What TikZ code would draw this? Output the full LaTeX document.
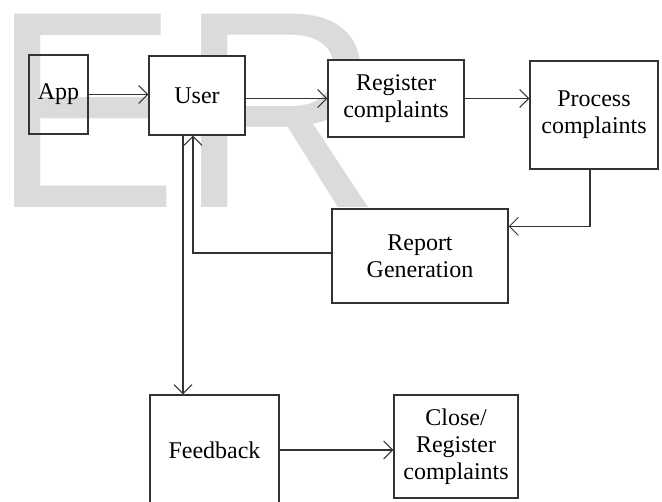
\documentclass[tikz,border=0pt]{standalone}
\usepackage{fontspec}
\setmainfont{Liberation Serif}
\newfontfamily\wmfont{Liberation Sans}
\usetikzlibrary{arrows.meta}
\begin{document}
\begin{tikzpicture}[x=1pt,y=-1pt,
  box/.style={draw=black!80, line width=1.3pt, fill=white, inner sep=0pt, align=center,
              font=\fontsize{24}{27}\selectfont},
  arr/.style={draw=black!80, line width=1.2pt,
              -{Straight Barb[length=9pt,width=18pt,line width=1pt]}},
  wm/.style={text=black!14, font=\wmfont\fontsize{281}{281}\selectfont, inner sep=0pt, anchor=base west}]
\clip (0,0) rectangle (662,502);
\useasboundingbox (0,0) rectangle (662,502);
\fill[white] (0,0) rectangle (662,502);
% watermark
\node[wm] (wmark) at (-9,208) {ER};
% boxes
\node[box, fill=none, minimum width=59pt, minimum height=79pt] (app) at (58.5,94.5) {App};
\node[box, minimum width=96pt, minimum height=79pt] (user) at (197,95.5) {User};
\node[box, minimum width=136pt, minimum height=77pt] (reg) at (396,98.5) {Register\\complaints};
\node[box, minimum width=128pt, minimum height=108pt] (proc) at (594,115) {Process\\complaints};
\node[box, minimum width=176pt, minimum height=94pt] (rep) at (420,256) {Report\\Generation};
\node[box, minimum width=129pt, minimum height=110pt] (fb) at (214.5,450) {Feedback};
\node[box, minimum width=124pt, minimum height=103pt] (close) at (456,446.5) {Close/\\Register\\complaints};
% connectors
\draw[arr] (app.east) -- (user.west |- app.east);
\draw[arr] (user.east |- reg.west) -- (reg.west);
\draw[arr] (reg.east) -- (proc.west |- reg.east);
\draw[arr] ([xshift=-4pt]proc.south) |- ([yshift=-18pt]rep.north east);
\draw[arr] ([yshift=3pt]rep.west) -| ([xshift=-4pt]user.south);
\draw[arr] ([xshift=-14pt]user.south) -- ([xshift=-14pt]user.south |- fb.north);
\draw[arr] (fb.east) -- (close.west |- fb.east);
\end{tikzpicture}
\end{document}
